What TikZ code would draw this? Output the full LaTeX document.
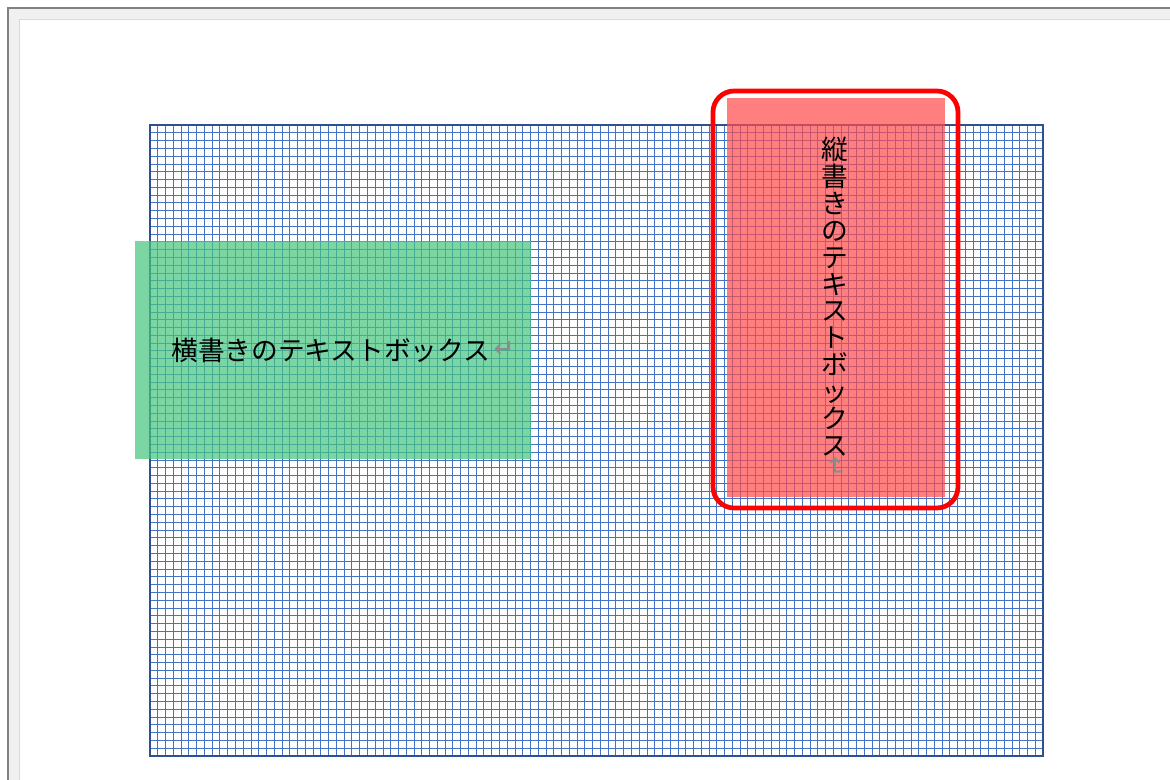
\documentclass[tikz,border=0pt]{standalone}
\definecolor{GridBlue}{RGB}{68, 114, 196}
\definecolor{FrameBlue}{RGB}{47, 82, 143}
\definecolor{MintGreen}{RGB}{69, 198, 126}
\definecolor{SoftRed}{RGB}{255, 74, 74}
\definecolor{PageGray}{RGB}{240, 240, 240}
\definecolor{EdgeGray}{RGB}{128, 128, 128}
\definecolor{MarkGray}{RGB}{140, 140, 140}
\usepackage{fontspec}
\newfontfamily\jpfont{Noto Sans CJK JP}
\newfontfamily\markfont{DejaVu Sans}
\usepackage{tikz}
\usetikzlibrary{positioning, calc}

\begin{document}
\begin{tikzpicture}[
        x=0.025cm, y=-0.025cm,
        % Styles
        gridline/.style={draw=GridBlue, line width=0.6pt},
        gridframe/.style={draw=FrameBlue, line width=1.4pt},
        hbox/.style={rectangle, fill=MintGreen, fill opacity=0.7, minimum width=396*0.025cm, minimum height=218*0.025cm, inner sep=0pt},
        vbox/.style={rectangle, fill=SoftRed, fill opacity=0.7, minimum width=218*0.025cm, minimum height=399*0.025cm, inner sep=0pt},
        marker/.style={rectangle, draw=red, line width=3.4pt, rounded corners=15pt, minimum width=245*0.025cm, minimum height=417*0.025cm, inner sep=0pt},
        jptext/.style={font=\jpfont\fontsize{19}{19.1}\selectfont, text=black, inner sep=0pt},
        retmark/.style={font=\markfont\fontsize{18}{18}\selectfont, text=MarkGray, inner sep=0pt}
    ]
        \useasboundingbox (0,0) rectangle (1170,780);
        \clip (0,0) rectangle (1170,780);

        % Page
        \fill[white] (0,0) rectangle (1170,780);
        \draw[draw=EdgeGray, line width=1.4pt, fill=PageGray] (8,8) rectangle (1200,800);
        \draw[draw=black!15, line width=1.2pt, fill=white] (19.5,19.5) rectangle (1200,800);

        % Grid
        \foreach \i in {0,...,115}
            \draw[gridline] ({150+\i*7.765},125) -- ++(0,631);
        \foreach \j in {0,...,81}
            \draw[gridline] (150,{125+\j*7.79}) -- ++(893,0);
        \draw[gridframe] (150,125) rectangle (1043,756);

        % Nodes
        \node[hbox] (horiz) at (333,350) {};
        \node[jptext, anchor=west] (htitle) at (171,350) {横書きのテキストボックス};
        \node[retmark, right=2pt of htitle] (hret) {↵};

        \node[vbox] (vert) at (836,297.5) {};
        \node[marker] (frame) at (835.5,299.5) {};
        \node[jptext, align=center, anchor=north] (vtitle) at (835,137)
            {縦\\書\\き\\の\\テ\\キ\\ス\\ト\\ボ\\ッ\\ク\\ス};
        \node[retmark, rotate=-90] (vret) at ($(vtitle.south)+(0,11)$) {↵};
    \end{tikzpicture}
\end{document}
